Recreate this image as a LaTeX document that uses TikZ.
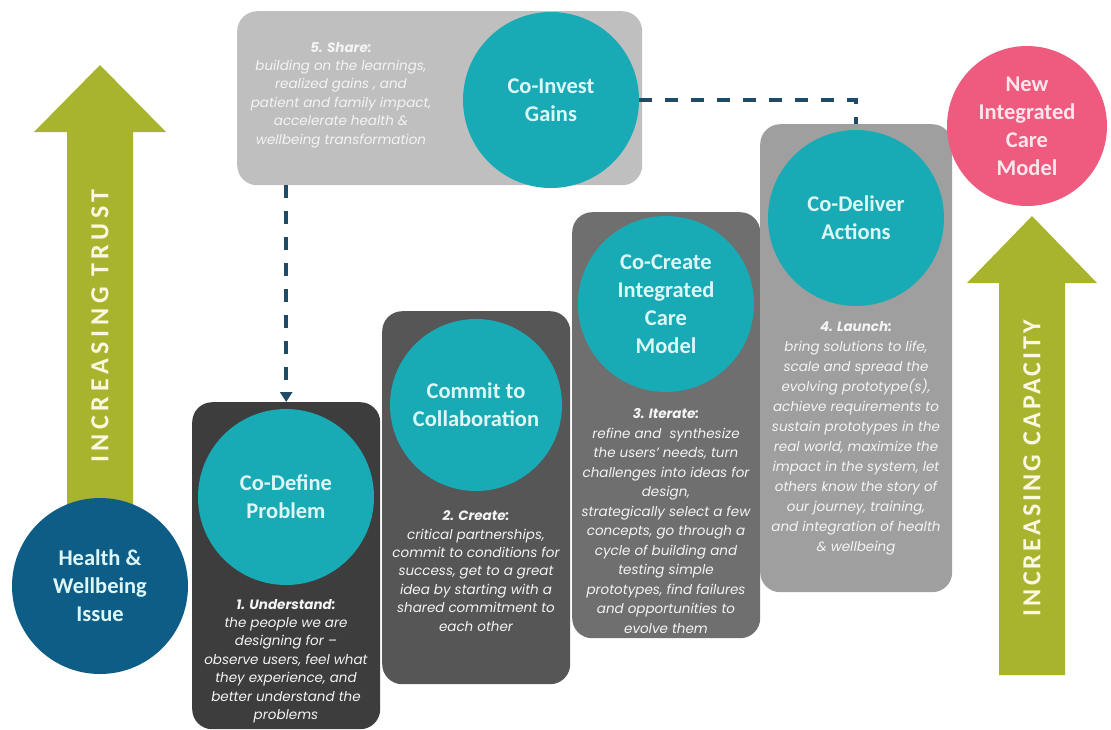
\documentclass[tikz,border=0pt]{standalone}
\usepackage{fontspec}
\setmainfont{Carlito}
\newfontfamily\notefont{Poppins}
\usetikzlibrary{arrows.meta}

\definecolor{stepteal}{HTML}{18AAB5}
\definecolor{issueblue}{HTML}{0E5D86}
\definecolor{olivegreen}{HTML}{A9B42E}
\definecolor{modelpink}{HTML}{EE5B7E}
\definecolor{shadeTop}{HTML}{BFBFBF}
\definecolor{shadeA}{HTML}{3D3D3D}
\definecolor{shadeB}{HTML}{565656}
\definecolor{shadeC}{HTML}{6F6F6F}
\definecolor{shadeD}{HTML}{9F9F9F}
\definecolor{dashblue}{HTML}{1F4B66}
\definecolor{labelcyan}{HTML}{DDF7F7}
\definecolor{labelpink}{HTML}{FCE6EC}
\definecolor{notewhite}{HTML}{F4F4F4}
\definecolor{arrowcream}{HTML}{FAF8E0}

\begin{document}
\begin{tikzpicture}[x=1pt,y=-1pt,
  stepbox/.style={rounded corners=20pt, anchor=north west, inner sep=0pt},
  bigcircle/.style={circle, inner sep=0pt, align=center,
    font=\bfseries\fontsize{22.5}{28}\selectfont},
  stepcircle/.style={bigcircle, fill=stepteal, text=labelcyan, minimum size=176pt},
  note/.style={text=notewhite, inner sep=0pt, align=center,
    font=\notefont\itshape\fontsize{13.5}{18.4}\selectfont},
  arrowtext/.style={text=arrowcream, inner sep=0pt,
    font=\bfseries\fontsize{26}{30}\selectfont\addfontfeatures{LetterSpace=#1}},
  arrowtext/.default=12,
  flow/.style={draw=dashblue, line width=3.5pt, dash pattern=on 13pt off 13pt}
]
\useasboundingbox (0,0) rectangle (1111,729);

% rising arrows
\fill[olivegreen] (100,65) -- (166,132) -- (133,132) -- (133,560)
  -- (67,560) -- (67,132) -- (34,132) -- cycle;
\fill[olivegreen] (1032,216) -- (1097,283) -- (1065,283) -- (1065,675)
  -- (999,675) -- (999,283) -- (967,283) -- cycle;
\node[arrowtext=18, rotate=90] (trust) at (100,326) {INCREASING TRUST};
\node[arrowtext=12, rotate=90] (capacity) at (1032,468) {INCREASING CAPACITY};

% starting issue
\node[bigcircle, fill=issueblue, text=labelcyan, minimum size=176pt] (issue)
  at (100,586) {Health \&\\Wellbeing\\Issue};

% stage panels
\node[stepbox, fill=shadeTop, minimum width=405pt, minimum height=174pt] (topbox) at (237,11) {};
\node[stepbox, fill=shadeA, minimum width=188pt, minimum height=327pt] (box1) at (192,402) {};
\node[stepbox, fill=shadeB, minimum width=188pt, minimum height=373pt] (box2) at (382,311) {};
\node[stepbox, fill=shadeC, minimum width=188pt, minimum height=426pt] (box3) at (572,212) {};
\node[stepbox, fill=shadeD, minimum width=192pt, minimum height=468pt] (box4) at (760,124) {};

% stage circles
\node[stepcircle] (invest) at (551,100) {Co-Invest\\Gains};
\node[stepcircle] (define) at (286,497) {Co-Define\\Problem};
\node[stepcircle, minimum size=172pt] (commit) at (476,405) {Commit to\\Collaboration};
\node[stepcircle] (create) at (666,304) {Co-Create\\Integrated\\Care\\Model};
\node[stepcircle] (deliver) at (856,218) {Co-Deliver\\Actions};

% outcome
\node[bigcircle, fill=modelpink, text=labelpink, minimum size=160pt] (model)
  at (1027,126) {New\\Integrated\\Care\\Model};

% stage descriptions
\node[note] (share) at (341,95) {{\bfseries 5. Share:}\\building on the learnings,\\realized gains , and\\patient and family impact,\\accelerate health \&\\wellbeing transformation};
\node[note] (understand) at (286,661) {{\bfseries 1. Understand:}\\the people we are\\designing for –\\observe users, feel what\\they experience, and\\better understand the\\problems};
\node[note] (createnote) at (476,571) {{\bfseries 2. Create:}\\critical partnerships,\\commit to conditions for\\success, get to a great\\idea by starting with a\\shared commitment to\\each other};
\node[note, font=\notefont\itshape\fontsize{13.5}{19.5}\selectfont] (iterate) at (666,521) {{\bfseries 3. Iterate:}\\refine and\ \ synthesize\\the users’ needs, turn\\challenges into ideas for\\design,\\strategically select a few\\concepts, go through a\\cycle of building and\\testing simple\\prototypes, find failures\\and opportunities to\\evolve them};
\node[note, font=\notefont\itshape\fontsize{13.5}{20}\selectfont] (launch) at (856,438) {{\bfseries 4. Launch:}\\bring solutions to life,\\scale and spread the\\evolving prototype(s),\\achieve requirements to\\sustain prototypes in the\\real world, maximize the\\impact in the system, let\\others know the story of\\our journey, training,\\and integration of health\\\& wellbeing};

% feedback loops
\draw[flow] (invest.east) -| (box4.north);
\draw[flow, -{Triangle[length=10pt,width=12pt]}] (box1.north |- topbox.south) -- (box1.north);
\end{tikzpicture}
\end{document}
